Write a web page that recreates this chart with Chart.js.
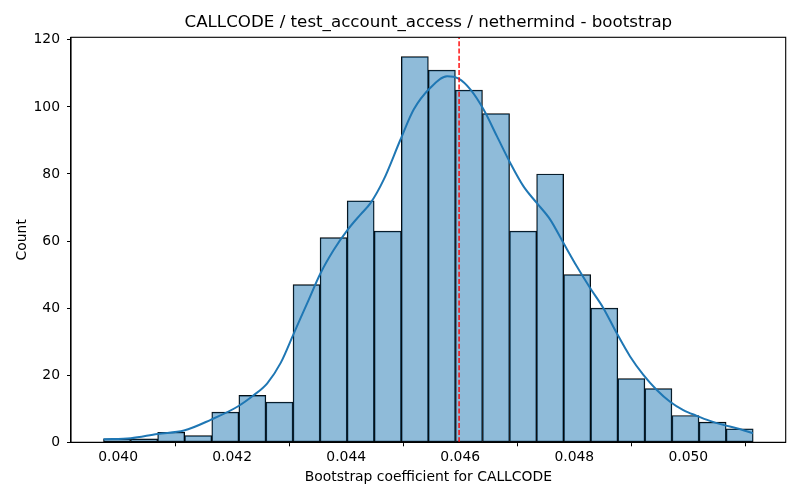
<!DOCTYPE html>
<html>
<head>
<meta charset="utf-8">
<script src="https://cdn.jsdelivr.net/npm/chart.js@4.4.1/dist/chart.umd.min.js"></script>
<style>
  html, body { margin: 0; padding: 0; background: #fff; }
</style>
</head>
<body>
<canvas id="chart" width="800" height="500"></canvas>
<script>
// histogram bins (centres) and counts
const binCenters = [0.039981, 0.040456, 0.040931, 0.041405, 0.041880, 0.042355,
  0.042830, 0.043305, 0.043779, 0.044254, 0.044729, 0.045204, 0.045678, 0.046153,
  0.046628, 0.047103, 0.047577, 0.048052, 0.048527, 0.049002, 0.049476, 0.049951,
  0.050426, 0.050901]
const counts = [1, 1, 3, 2, 9, 14, 12, 47, 61, 72, 63, 115, 111, 105, 98, 63, 80,
  50, 40, 19, 16, 8, 6, 4]

// kde curve
const kdeX = [0.039744, 0.040222, 0.040690, 0.041156, 0.041623, 0.042091, 0.042382,
  0.042616, 0.042849, 0.043082, 0.043317, 0.043550, 0.043783, 0.044018, 0.044250,
  0.044426, 0.044658, 0.044951, 0.045184, 0.045476, 0.045769, 0.045972, 0.046177,
  0.046410, 0.046645, 0.046877, 0.047110, 0.047345, 0.047578, 0.047811, 0.048046,
  0.048278, 0.048511, 0.048746, 0.048979, 0.049212, 0.049447, 0.049680, 0.049912,
  0.050147, 0.050380, 0.050613, 0.050848, 0.051133]
const kdeY = [0.9, 1.2, 2.5, 3.5, 6.7, 10.6, 14.1, 17.6, 23.6, 32.5, 41.5, 50.4,
  57.4, 63.2, 67.9, 71.3, 78.3, 90.2, 99.2, 105.7, 109.1, 108.4, 105.2, 99.2, 91.2,
  83.3, 76.3, 71.3, 66.4, 59.4, 52.4, 46, 40, 32.5, 25.6, 20.1, 15.6, 12.1, 9.6,
  7.9, 6.4, 5.2, 4.2, 2.7]

const meanValue = 0.04598
const xTicks = [0.040, 0.042, 0.044, 0.046, 0.048, 0.050]
const yTicks = [0, 20, 40, 60, 80, 100, 120]
const xMin = 0.039174
const xMax = 0.051708
const yMax = 120.75

const titleText = 'CALLCODE / test_account_access / nethermind - bootstrap'
const font = 'DejaVu Sans'

// spines all round + title centred over the plot area
const frame = {
  id: 'frame',
  afterDraw(chart) {
    const { ctx, chartArea } = chart
    ctx.save()
    ctx.strokeStyle = '#000'
    ctx.lineWidth = 1.1
    ctx.strokeRect(chartArea.left, chartArea.top, chartArea.right - chartArea.left, chartArea.bottom - chartArea.top)
    ctx.fillStyle = '#000'
    ctx.font = '16.7px "' + font + '"'
    ctx.textAlign = 'center'
    ctx.textBaseline = 'middle'
    ctx.fillText(titleText, (chartArea.left + chartArea.right) / 2, 23)
    ctx.restore()
  }
}

new Chart(document.getElementById('chart'), {
  type: 'bar',
  data: {
    datasets: [{
      type: 'line',
      data: [{ x: meanValue, y: 0 }, { x: meanValue, y: yMax }],
      borderColor: '#ff0000',
      borderWidth: 1.4,
      borderDash: [5, 2.2],
      pointRadius: 0,
      order: 1
    }, {
      type: 'line',
      data: kdeX.map((x, i) => ({ x: x, y: kdeY[i] })),
      borderColor: '#1f77b4',
      borderWidth: 2,
      pointRadius: 0,
      cubicInterpolationMode: 'monotone',
      order: 2
    }, {
      type: 'bar',
      data: binCenters.map((x, i) => ({ x: x, y: counts[i] })),
      backgroundColor: 'rgba(31,119,180,0.5)',
      borderColor: '#000',
      borderWidth: 0.8,
      borderSkipped: false,
      barPercentage: 1,
      categoryPercentage: 1,
      order: 3
    }]
  },
  options: {
    responsive: false,
    animation: false,
    devicePixelRatio: 1,
    layout: { padding: { left: 0, right: 14.3, top: 37.3, bottom: 0 } },
    plugins: {
      legend: { display: false },
      tooltip: { enabled: false },
      title: { display: false }
    },
    scales: {
      x: {
        type: 'linear',
        min: xMin,
        max: xMax,
        offset: false,
        afterFit: s => { s.height = 57.7 },
        afterBuildTicks: s => { s.ticks = xTicks.map(v => ({ value: v })) },
        grid: { drawOnChartArea: false, tickLength: 4, color: '#000' },
        border: { color: '#000', width: 1.1 },
        ticks: {
          color: '#000',
          padding: 3,
          maxRotation: 0,
          font: { family: font, size: 13.9 },
          callback: v => v.toFixed(3)
        },
        title: {
          display: true,
          text: 'Bootstrap coefficient for CALLCODE',
          color: '#000',
          font: { family: font, size: 13.9, lineHeight: 1.2 },
          padding: { top: 0, bottom: 14.7 }
        }
      },
      y: {
        min: 0,
        max: yMax,
        afterFit: s => { s.width = 71 },
        afterBuildTicks: s => { s.ticks = yTicks.map(v => ({ value: v })) },
        grid: { drawOnChartArea: false, tickLength: 4, color: '#000' },
        border: { color: '#000', width: 1.1 },
        ticks: {
          color: '#000',
          padding: 7,
          font: { family: font, size: 13.9 }
        },
        title: {
          display: true,
          text: 'Count',
          color: '#000',
          font: { family: font, size: 13.9, lineHeight: 1.2 },
          padding: { top: 13.7, bottom: 0 }
        }
      }
    }
  },
  plugins: [frame]
})
</script>
</body>
</html>
